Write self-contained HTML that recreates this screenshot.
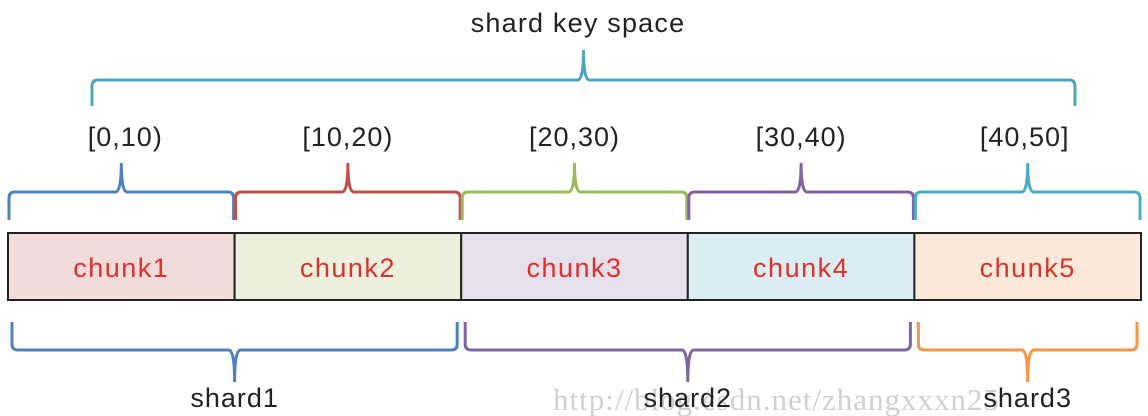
<!DOCTYPE html>
<html><head><meta charset="utf-8"><style>
html,body{margin:0;padding:0;background:#fff;width:1148px;height:416px;overflow:hidden}
svg{display:block}
text{font-family:"Liberation Sans",sans-serif}
</style></head><body>
<svg id="c" width="1148" height="416"></svg>
<script>
const chunkLabels=["chunk1","chunk2","chunk3","chunk4","chunk5"];
const rangeLabels=["[0,10)","[10,20)","[20,30)","[30,40)","[40,50]"];
const chunkFills=["#f2dcdb","#ebf1de","#e5e0ec","#dbeef4","#fde9d9"];
const rangeColors=["#4f81bd","#c0504d","#9bbb59","#8064a2","#4bacc6"];
const shardLabels=["shard1","shard2","shard3"];
const shardSpans=[[0,2],[2,4],[4,5]];
const shardColors=["#4f81bd","#8064a2","#f79646"];
const NS="http://www.w3.org/2000/svg";
const svg=document.getElementById('c');
const x0=8,x1=1141,bw=(x1-x0)/chunkLabels.length;
function X(i){return x0+i*bw;}
function mk(t,a){const e=document.createElementNS(NS,t);for(const k in a)e.setAttribute(k,a[k]);svg.appendChild(e);return e;}
function brace(xa,xb,yl,yend,ytip,col,w){
  const xm=(xa+xb)/2,s=Math.sign(yend-yl),r=6;
  const d=`M${xa},${yend} L${xa},${yl+s*r} Q${xa},${yl} ${xa+r},${yl} L${xm-r},${yl} Q${xm},${yl} ${xm},${ytip} Q${xm},${yl} ${xm+r},${yl} L${xb-r},${yl} Q${xb},${yl} ${xb},${yl+s*r} L${xb},${yend}`;
  return mk('path',{d:d,fill:'none',stroke:col,'stroke-width':w});
}
function txt(x,y,s,size,col,ls){const e=mk('text',{x:x,y:y,'text-anchor':'middle','font-size':size,fill:col,'letter-spacing':ls||0});e.textContent=s;return e;}
// watermark
let w=mk('text',{x:553,y:410,'font-size':31,fill:'#d0d0d0','letter-spacing':1});
w.setAttribute('style','font-family:"Liberation Serif",serif');
w.textContent='http://blog.csdn.net/zhangxxxn25';


// top brace
let b=brace(92,1075,80,106,50,'#4fa3bd',3);


let t=txt(578,32,'shard key space',27,'#222',1.2);


chunkLabels.forEach((c,i)=>{
  let r=mk('rect',{x:X(i),y:233,width:bw,height:67,fill:chunkFills[i],stroke:'#222','stroke-width':2});
  
  
  let ct=txt(X(i)+bw/2,277,c,27,'#e0302a',1.5);
  
  
  let br=brace(X(i)+1,X(i+1)-1,192,220,163,rangeColors[i],3);
  
  
  let rt=txt(X(i)+bw/2-(i===0?-4:0)+(i===4?-3:0),146,rangeLabels[i],27,'#222',1);
  
  
});
shardLabels.forEach((s,i)=>{
  const a=X(shardSpans[i][0])+4,e=X(shardSpans[i][1])-4;
  let br=brace(a,e,350,322,382,shardColors[i],3);
  
  
  let st=txt((a+e)/2,407,s,27,'#222',1);
  
  
});
</script>
</body></html>
